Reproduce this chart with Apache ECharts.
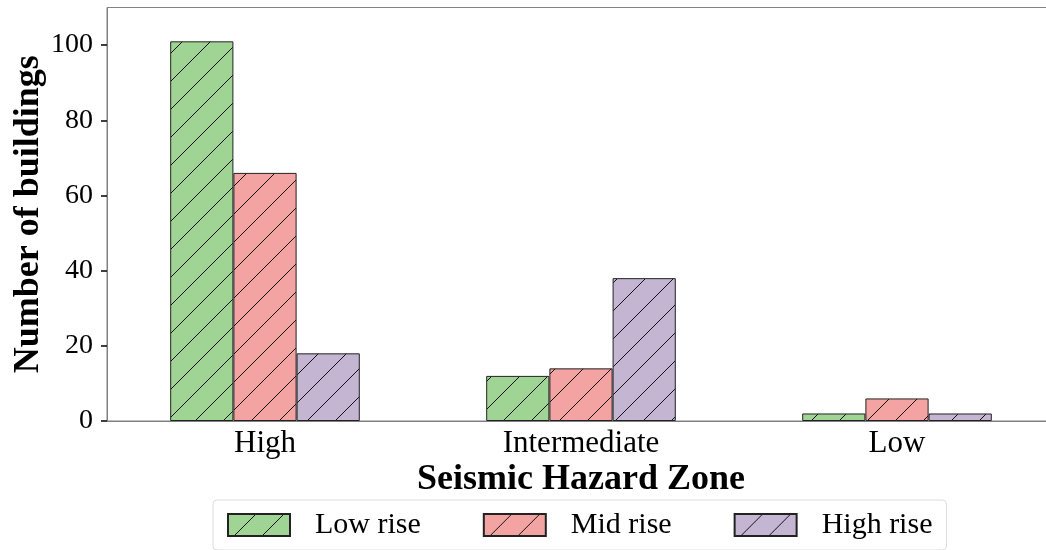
<!DOCTYPE html>
<html>
<head>
<meta charset="utf-8">
<script src="https://cdn.jsdelivr.net/npm/echarts@6/dist/echarts.min.js"></script>
<style>html,body{margin:0;padding:0;background:#fff;}#c{width:1046px;height:550px;}</style>
</head>
<body>
<div id="c"></div>
<script>
const categories = ['High', 'Intermediate', 'Low'];
const seriesNames = ['Low rise', 'Mid rise', 'High rise'];
const lowRise = [101, 12, 2];
const midRise = [66, 14, 6];
const highRise = [18, 38, 2];
const yTicks = [0, 20, 40, 60, 80, 100];
const colors = ['#a0d494', '#f4a3a3', '#c4b5d3'];

function hatch(color) {
  const s = 28;
  const cv = document.createElement('canvas');
  cv.width = s; cv.height = s;
  const ctx = cv.getContext('2d');
  ctx.fillStyle = color;
  ctx.fillRect(0, 0, s, s);
  ctx.strokeStyle = '#111';
  ctx.lineWidth = 1;
  ctx.beginPath();
  for (const o of [-s, 0, s]) {
    ctx.moveTo(o - 2, s + 2);
    ctx.lineTo(o + s + 2, -2);
  }
  ctx.stroke();
  return { image: cv, repeat: 'repeat' };
}

const font = 'Liberation Serif';
const chart = echarts.init(document.getElementById('c'));
const dataSets = [lowRise, midRise, highRise];
chart.setOption({
  animation: false,
  backgroundColor: '#fff',
  grid: { left: 107, right: -9, top: 7.5, bottom: 129, containLabel: false, outerBoundsMode: 'none', show: true, borderColor: '#808080', borderWidth: 1 },
  legend: {
    left: 213, top: 500,
    padding: [10, 14, 10, 14],
    itemWidth: 62, itemHeight: 22, itemGap: 62,
    borderColor: '#dcdcdc', borderWidth: 1, borderRadius: 4,
    icon: 'rect',
    textStyle: { fontFamily: font, fontSize: 30, color: '#000', padding: [0, 0, 0, 20] },
    data: seriesNames
  },
  xAxis: {
    type: 'category', data: categories,
    axisLine: { lineStyle: { color: '#808080', width: 1 } },
    axisTick: { alignWithLabel: true, length: 6, lineStyle: { color: '#000', width: 1.5 } },
    axisLabel: { fontFamily: font, fontSize: 31, color: '#000', margin: 7 },
    name: 'Seismic Hazard Zone', nameLocation: 'middle', nameGap: 41, nameMoveOverlap: false,
    nameTextStyle: { fontFamily: font, fontSize: 36, fontWeight: 'bold', color: '#000' }
  },
  yAxis: {
    type: 'value', min: 0, max: 110, interval: 20,
    splitLine: { show: false },
    axisLine: { show: true, lineStyle: { color: '#808080', width: 1 } },
    axisTick: { show: true, length: 6, lineStyle: { color: '#000', width: 1.5 }, customValues: yTicks },
    axisLabel: { fontFamily: font, fontSize: 28, color: '#000', margin: 14, customValues: yTicks },
    name: 'Number of buildings', nameLocation: 'middle', nameGap: 60, nameMoveOverlap: false,
    nameTextStyle: { fontFamily: font, fontSize: 36, fontWeight: 'bold', color: '#000' }
  },
  series: seriesNames.map((n, i) => ({
    name: n, type: 'bar', data: dataSets[i],
    barGap: '0%', barCategoryGap: '40%',
    itemStyle: { color: hatch(colors[i]), borderColor: '#222', borderWidth: 1 }
  }))
});
</script>
</body>
</html>
